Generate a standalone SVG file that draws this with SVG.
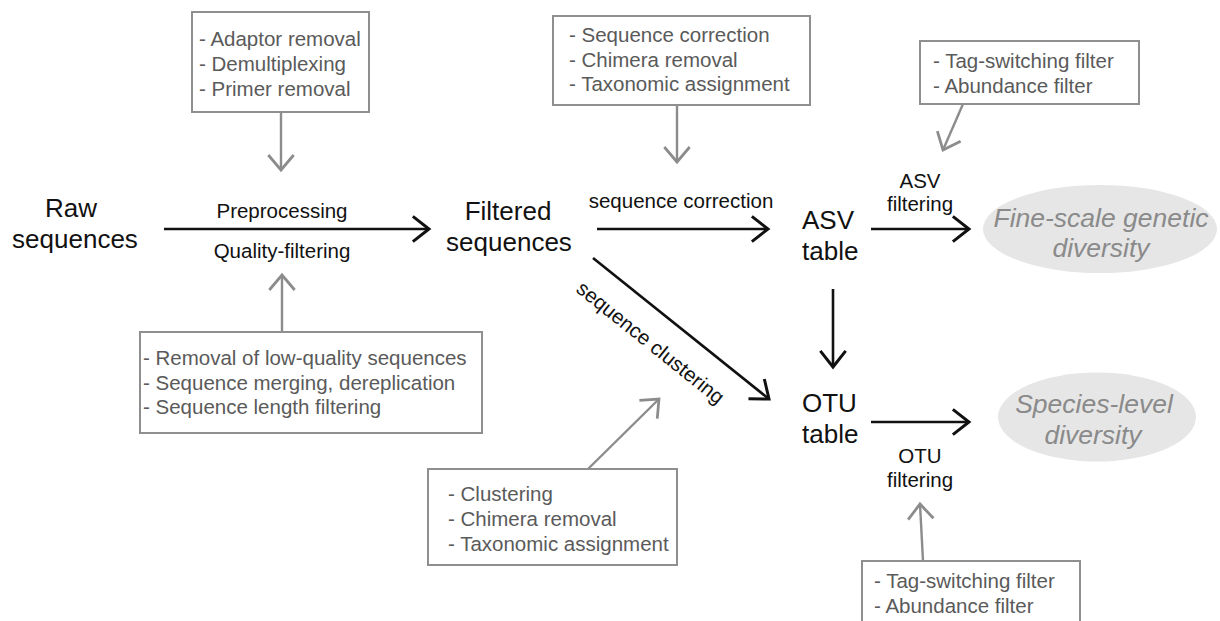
<svg xmlns="http://www.w3.org/2000/svg" width="1220" height="621" viewBox="0 0 1220 621">
<defs>
<style>
.node{font-family:"Liberation Sans",Arial,sans-serif;font-size:26px;fill:#111}
.lbl{font-family:"Liberation Sans",Arial,sans-serif;font-size:20.5px;fill:#111}
.box rect{fill:#fff;stroke:#8f8f8f;stroke-width:2}
.box text{font-family:"Liberation Sans",Arial,sans-serif;font-size:20.5px;fill:#5a5a5a}
.out ellipse{fill:#e6e6e6}
.out text{font-family:"Liberation Sans",Arial,sans-serif;font-size:26.5px;font-style:italic;fill:#8a8a8a;text-anchor:middle}
.blk{stroke:#111;stroke-width:2.6;fill:none;marker-end:url(#hb)}
.gry{stroke:#8c8c8c;stroke-width:2.4;fill:none;marker-end:url(#hg)}
</style>
<marker id="hb" markerUnits="userSpaceOnUse" markerWidth="30" markerHeight="30" viewBox="-16 -13 18 26" refX="0" refY="0" orient="auto">
<path d="M-14,-11 L0,0 L-14,11" fill="none" stroke="#111" stroke-width="2.6"/>
</marker>
<marker id="hg" markerUnits="userSpaceOnUse" markerWidth="30" markerHeight="30" viewBox="-16 -13 18 26" refX="0" refY="0" orient="auto">
<path d="M-13,-11 L0,0 L-13,11" fill="none" stroke="#8c8c8c" stroke-width="2.4"/>
</marker>
</defs>
<rect width="1220" height="621" fill="#fff"/>

<g id="connectors">
<line class="blk" x1="164" y1="229" x2="429" y2="229"/>
<line class="blk" x1="597" y1="229" x2="768" y2="229"/>
<line class="blk" x1="593" y1="258" x2="769" y2="399"/>
<line class="blk" x1="833" y1="289" x2="833" y2="367"/>
<line class="blk" x1="871" y1="229" x2="969" y2="229"/>
<line class="blk" x1="871" y1="422" x2="969" y2="422"/>
<line class="gry" x1="281" y1="112" x2="281" y2="170"/>
<line class="gry" x1="282" y1="332" x2="282" y2="275"/>
<line class="gry" x1="677" y1="105" x2="677" y2="162"/>
<line class="gry" x1="963" y1="104" x2="943" y2="150"/>
<line class="gry" x1="588" y1="469" x2="659" y2="399"/>
<line class="gry" x1="923" y1="561" x2="920" y2="504"/>
<text class="lbl" x="282" y="218" text-anchor="middle">Preprocessing</text>
<text class="lbl" x="282" y="258" text-anchor="middle">Quality-filtering</text>
<text class="lbl" x="681" y="208" text-anchor="middle">sequence correction</text>
<text class="lbl" x="575" y="291" transform="rotate(38.7 575 291)">sequence clustering</text>
<text class="lbl" x="920" y="188" text-anchor="middle">ASV</text>
<text class="lbl" x="920" y="211" text-anchor="middle">filtering</text>
<text class="lbl" x="920" y="463" text-anchor="middle">OTU</text>
<text class="lbl" x="920" y="487" text-anchor="middle">filtering</text>
</g>

<g id="raw">
<text class="node" x="71" y="217" text-anchor="middle">Raw</text>
<text class="node" x="75" y="248" text-anchor="middle">sequences</text>
</g>
<g id="filtered">
<text class="node" x="508" y="220" text-anchor="middle">Filtered</text>
<text class="node" x="509" y="251" text-anchor="middle">sequences</text>
</g>
<g id="asv">
<text class="node" x="802" y="229">ASV</text>
<text class="node" x="802" y="260">table</text>
</g>
<g id="otu">
<text class="node" x="802" y="412">OTU</text>
<text class="node" x="802" y="443">table</text>
</g>

<g id="fine" class="out">
<ellipse cx="1100" cy="229" rx="117" ry="44"/>
<text x="1101" y="227">Fine-scale genetic</text>
<text x="1101" y="257">diversity</text>
</g>
<g id="species" class="out">
<ellipse cx="1097" cy="417" rx="99" ry="44.5"/>
<text x="1094" y="413">Species-level</text>
<text x="1093" y="444">diversity</text>
</g>

<g id="box-preprocessing" class="box">
<rect x="192" y="12" width="177" height="100"/>
<text x="199" y="46">- Adaptor removal</text>
<text x="199" y="71">- Demultiplexing</text>
<text x="199" y="96">- Primer removal</text>
</g>
<g id="box-quality" class="box">
<rect x="140" y="332" width="342" height="101"/>
<text x="143" y="365">- Removal of low-quality sequences</text>
<text x="143" y="390">- Sequence merging, dereplication</text>
<text x="143" y="414">- Sequence length filtering</text>
</g>
<g id="box-correction" class="box">
<rect x="553" y="16" width="257" height="89"/>
<text x="569" y="42">- Sequence correction</text>
<text x="569" y="67">- Chimera removal</text>
<text x="569" y="91">- Taxonomic assignment</text>
</g>
<g id="box-asv-filter" class="box">
<rect x="920" y="41" width="219" height="63"/>
<text x="933" y="68">- Tag-switching filter</text>
<text x="933" y="93">- Abundance filter</text>
</g>
<g id="box-clustering" class="box">
<rect x="428" y="469" width="249" height="96"/>
<text x="448" y="501">- Clustering</text>
<text x="448" y="526">- Chimera removal</text>
<text x="448" y="551">- Taxonomic assignment</text>
</g>
<g id="box-otu-filter" class="box">
<rect x="862" y="561" width="218" height="80"/>
<text x="874" y="588">- Tag-switching filter</text>
<text x="874" y="613">- Abundance filter</text>
</g>
</svg>
